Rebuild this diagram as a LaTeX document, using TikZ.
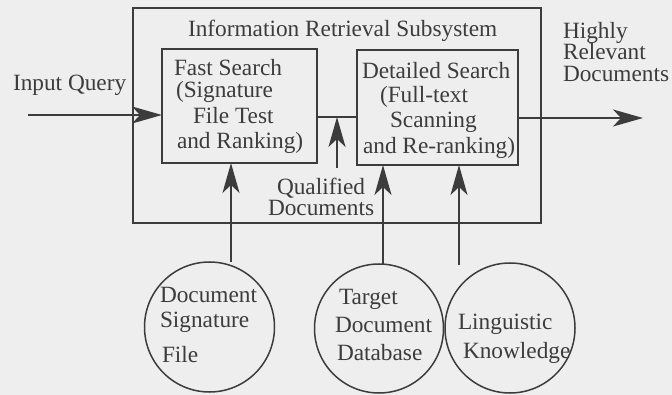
\documentclass[tikz,border=0pt]{standalone}
\usepackage{fontspec}
\setmainfont{Liberation Serif}
\usetikzlibrary{arrows.meta,shapes.geometric}
\definecolor{ink}{RGB}{60,60,60}
\definecolor{paper}{RGB}{238,238,238}
\begin{document}
\begin{tikzpicture}[x=1pt,y=-1pt,
  every node/.style={inner sep=0pt, outer sep=0pt},
  lbl/.style={anchor=base west, text=ink, font=\fontsize{23.3}{24}\selectfont},
  boxframe/.style={draw=ink, rectangle, line width=1.5pt},
  store/.style={draw=ink, circle, line width=1.5pt},
  flow/.style={draw=ink, line width=1.5pt, -{Stealth[length=30pt,width=17pt,inset=8pt]}},
  link/.style={draw=ink, line width=1.5pt}]
\fill[paper] (0,0) rectangle (672,395);
\useasboundingbox (0,0) rectangle (672,395);

% frames
\node[boxframe, minimum width=408pt, minimum height=215pt] (sub) at (337,115.5) {};
\node[boxframe, minimum width=155pt, minimum height=114pt] (fast) at (239.5,106) {};
\node[boxframe, minimum width=161pt, minimum height=115pt] (det) at (437.5,107.5) {};

% stores
\node[store, minimum size=130pt] (c1) at (209.5,327) {};
\node[store, minimum size=129pt] (c2) at (379,328.5) {};
\node[store, minimum size=130pt] (c3) at (510,328) {};

% coordinates
\coordinate (qin) at (28,115);
\coordinate (mid) at (337,117);
\coordinate (qtail) at (337,168);
\coordinate (out) at (643,118);
\coordinate (u1) at (231,262);
\coordinate (u2) at (383,264);
\coordinate (u3) at (459,265);

% connectors
\draw[flow] (qin) -- (qin -| fast.west);
\draw[link] (mid -| fast.east) -- (mid -| det.west);
\draw[flow] (qtail) -- (mid);
\draw[flow] (det.east |- out) -- (out);
\draw[flow] (u1) -- (u1 |- fast.south);
\draw[flow] (u2) -- (u2 |- det.south);
\draw[flow] (u3) -- (u3 |- det.south);

% labels
\node[lbl] (title) at (188,37) {Information Retrieval Subsystem};
\node[lbl] (iq) at (13,91) {Input Query};
\node[lbl] (f1) at (174,76) {Fast Search};
\node[lbl] (f2) at (176,97.5) {(Signature};
\node[lbl] (f3) at (193,123.5) {File Test};
\node[lbl] (f4) at (177,148.5) {and Ranking)};
\node[lbl] (d1) at (362,79) {Detailed Search};
\node[lbl] (d2) at (380,103) {(Full-text};
\node[lbl] (d3) at (390,128) {Scanning};
\node[lbl] (d4) at (363,154) {and Re-ranking)};
\node[lbl] (h1) at (563,39) {Highly};
\node[lbl] (h2) at (563,60) {Relevant};
\node[lbl] (h3) at (563,82) {Documents};
\node[lbl] (q1) at (277,194.5) {Qualified};
\node[lbl] (q2) at (268,215.5) {Documents};
\node[lbl] (s1) at (160,302) {Document};
\node[lbl] (s2) at (160,327) {Signature};
\node[lbl] (s3) at (162,362) {File};
\node[lbl] (g1) at (339,305) {Target};
\node[lbl] (g2) at (335,332) {Document};
\node[lbl] (g3) at (337,360) {Database};
\node[lbl] (k1) at (458,330) {Linguistic};
\node[lbl] (k2) at (463,358) {Knowledge};
\end{tikzpicture}
\end{document}
